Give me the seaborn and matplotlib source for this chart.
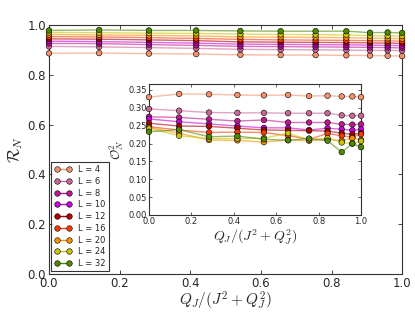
import numpy as np
import pandas as pd
import seaborn as sns
import matplotlib.pyplot as plt
from matplotlib.lines import Line2D

# x positions of the measurements
x = [0.0, 0.142, 0.283, 0.417, 0.542, 0.656, 0.755, 0.842, 0.909, 0.959, 1.0]
sizes = [4, 6, 8, 10, 12, 16, 20, 24, 32]
colors = ['#f4916a', '#cc6699', '#c0168e', '#c800e0', '#b00000',
          '#ff3a00', '#ff8c00', '#c8c400', '#4d8a00']

# main panel: R_N
R4 = [0.886, 0.887, 0.885, 0.883, 0.880, 0.879, 0.879, 0.878, 0.877, 0.876, 0.875]
R6 = [0.914, 0.912, 0.909, 0.906, 0.902, 0.901, 0.900, 0.899, 0.898, 0.898, 0.897]
R8 = [0.926, 0.925, 0.921, 0.918, 0.914, 0.913, 0.912, 0.911, 0.910, 0.909, 0.908]
R10 = [0.935, 0.933, 0.930, 0.927, 0.923, 0.922, 0.921, 0.920, 0.919, 0.918, 0.917]
R12 = [0.944, 0.943, 0.940, 0.937, 0.932, 0.931, 0.930, 0.929, 0.928, 0.927, 0.926]
R16 = [0.953, 0.952, 0.949, 0.946, 0.942, 0.940, 0.939, 0.938, 0.937, 0.936, 0.935]
R20 = [0.962, 0.960, 0.958, 0.956, 0.952, 0.951, 0.950, 0.949, 0.947, 0.946, 0.945]
R24 = [0.970, 0.969, 0.967, 0.966, 0.963, 0.962, 0.961, 0.960, 0.957, 0.956, 0.955]
R32 = [0.978, 0.980, 0.978, 0.978, 0.976, 0.975, 0.975, 0.975, 0.969, 0.970, 0.968]
R_all = [R4, R6, R8, R10, R12, R16, R20, R24, R32]

# inset: O_N^2
O4 = [0.330, 0.339, 0.338, 0.336, 0.335, 0.336, 0.333, 0.334, 0.332, 0.332, 0.330]
O6 = [0.297, 0.292, 0.287, 0.286, 0.286, 0.285, 0.285, 0.285, 0.279, 0.278, 0.278]
O8 = [0.275, 0.273, 0.268, 0.263, 0.266, 0.259, 0.259, 0.259, 0.254, 0.253, 0.254]
O10 = [0.269, 0.261, 0.255, 0.249, 0.244, 0.244, 0.238, 0.243, 0.240, 0.237, 0.240]
O12 = [0.257, 0.249, 0.248, 0.243, 0.238, 0.237, 0.236, 0.235, 0.229, 0.226, 0.229]
O16 = [0.247, 0.238, 0.231, 0.232, 0.231, 0.222, 0.212, 0.228, 0.222, 0.218, 0.226]
O20 = [0.245, 0.229, 0.210, 0.209, 0.204, 0.210, 0.208, 0.212, 0.208, 0.215, 0.210]
O24 = [0.242, 0.222, 0.214, 0.214, 0.215, 0.229, 0.210, 0.215, 0.203, 0.200, 0.207]
O32 = [0.233, 0.239, 0.219, 0.221, 0.212, 0.209, 0.214, 0.208, 0.176, 0.200, 0.190]
O_all = [O4, O6, O8, O10, O12, O16, O20, O24, O32]

rows = []
for L, R, O in zip(sizes, R_all, O_all):
    for xi, r, o in zip(x, R, O):
        rows.append({'x': xi, 'L': L, 'R': r, 'O': o})
df = pd.DataFrame(rows)
pal = dict(zip(sizes, colors))

sns.set_style('ticks')
plt.rcParams['mathtext.fontset'] = 'cm'
plt.rcParams['xtick.direction'] = 'in'
plt.rcParams['ytick.direction'] = 'in'

fig = plt.figure(figsize=(4.15, 3.12), dpi=100)
ax = fig.add_axes([0.118, 0.122, 0.851, 0.798])
ins = fig.add_axes([0.359, 0.311, 0.511, 0.42])


def draw(a, col, ms):
    sns.lineplot(data=df, x='x', y=col, hue='L', palette=pal, ax=a,
                 lw=1, alpha=0.6, legend=False, sort=True)
    sns.scatterplot(data=df, x='x', y=col, hue='L', palette=pal, ax=a,
                    s=ms, edgecolor='k', linewidth=0.4, legend=False, zorder=3,
                    clip_on=False)


draw(ax, 'R', 16)
draw(ins, 'O', 16)

ax.set_xlim(0, 1)
ax.set_ylim(0, 1)
ax.set_xticks(np.arange(0, 1.01, 0.2))
ax.set_yticks(np.arange(0, 1.01, 0.2))
ax.tick_params(labelsize=8.5, top=True, right=True, length=3, width=0.6, pad=2)
ax.set_xlabel(r'$Q_J/(J^2+Q_J^2)$', fontsize=11, labelpad=0)
ax.set_ylabel(r'$\mathcal{R}_N$', fontsize=12, labelpad=2)

ins.set_xlim(0, 1)
ins.set_ylim(0, 0.367)
ins.set_xticks(np.arange(0, 1.01, 0.2))
ins.set_yticks(np.arange(0, 0.351, 0.05))
ins.set_yticklabels(['%.2f' % v for v in np.arange(0, 0.351, 0.05)])
ins.tick_params(labelsize=6, top=True, right=True, length=2.5, width=0.5, pad=1.5)
ins.set_xlabel(r'$Q_J/(J^2+Q_J^2)$', fontsize=10, labelpad=1)
ins.set_ylabel(r'$\mathcal{O}^2_N$', fontsize=9, labelpad=2)

for a in (ax, ins):
    for sp in a.spines.values():
        sp.set_linewidth(0.8)
        sp.set_color('#333333')

handles = [Line2D([], [], color=c, marker='o', markersize=4, markeredgecolor='k',
                  markeredgewidth=0.4, lw=1) for c in colors]
labels = ['L = %d' % L for L in sizes]
leg = ax.legend(handles, labels, loc='lower left', fontsize=6, numpoints=2,
                frameon=True, fancybox=False, edgecolor='k', handlelength=2,
                borderpad=0.4, labelspacing=0.33, borderaxespad=0.3)
leg.get_frame().set_linewidth(0.8)

fig.savefig('out.png', dpi=100)
